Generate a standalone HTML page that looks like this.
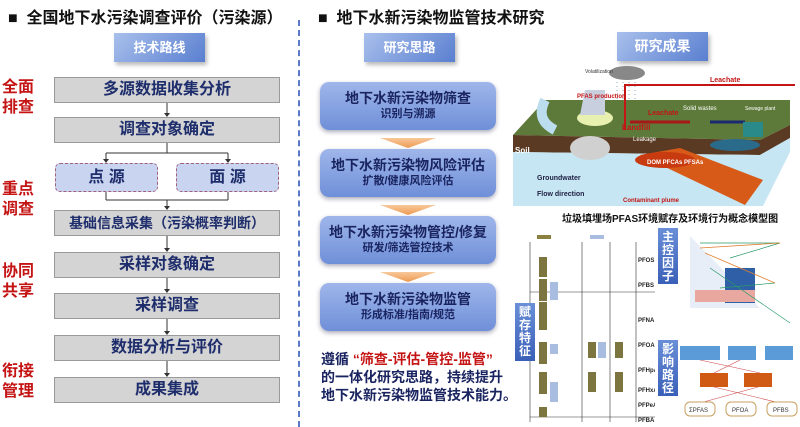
<!DOCTYPE html>
<html><head><meta charset="utf-8"><style>
*{margin:0;padding:0;box-sizing:border-box}
body{width:800px;height:427px;background:#fff;position:relative;overflow:hidden;font-family:"Liberation Sans","Noto Sans CJK SC",sans-serif}
.a{position:absolute}
.t{font-size:16px;font-weight:bold;color:#111;white-space:nowrap}
.hb{background:linear-gradient(135deg,#a9c0ec,#5a7fd0);color:#fff;font-weight:bold;font-size:13px;text-align:center;box-shadow:2px 3px 4px #bbb}
.g{background:#d4d4d4;border:1px solid #9a9a9a;color:#1e2d6b;font-weight:bold;font-size:16px;text-align:center;left:54px;width:226px;height:26px;line-height:24px}
.r{color:#c41414;font-weight:bold;font-size:16px;line-height:20px;left:2px}
.p{background:#c9d4f0;border:1.5px dashed #a0607a;border-radius:5px;color:#1e2d6b;font-weight:bold;font-size:16px;text-align:center;top:163px;height:29px;line-height:27px;width:103px}
.b{left:320px;width:176px;height:48px;border-radius:9px;background:linear-gradient(180deg,#9fb6ea,#6f8fd8);box-shadow:0 2px 5px #aab;text-align:center;color:#1a2460;font-weight:bold;font-size:14px;padding-top:7px;line-height:18px}
.b span{font-size:11px;display:block;line-height:15px}
.w{left:380px;width:56px;height:10px;background:linear-gradient(180deg,#f7c89a,#ef9a50);clip-path:polygon(0 0,100% 0,50% 100%)}
.vl{background:linear-gradient(180deg,#6a8fd8,#3a5fb8);color:#fff;font-weight:bold;font-size:12px;width:20px;text-align:center;line-height:13px;padding-top:3px}
</style></head><body>
<div class="a t" style="left:8px;top:4px">■&nbsp; 全国地下水污染调查评价（污染源）</div>
<div class="a t" style="left:318px;top:4px">■&nbsp; 地下水新污染物监管技术研究</div>
<div class="a" style="left:298px;top:20px;height:407px;border-left:2px dashed #5a7ac8"></div>

<div class="a hb" style="left:114px;top:33px;width:91px;height:29px;line-height:29px">技术路线</div>
<div class="a r" style="top:78px">全面<br>排查</div>
<div class="a r" style="top:180px">重点<br>调查</div>
<div class="a r" style="top:262px">协同<br>共享</div>
<div class="a r" style="top:362px">衔接<br>管理</div>
<div class="a g" style="top:77px">多源数据收集分析</div>
<div class="a g" style="top:117px">调查对象确定</div>
<div class="a p" style="left:55px">点 源</div>
<div class="a p" style="left:176px">面 源</div>
<div class="a g" style="top:210px;font-size:14px">基础信息采集（污染概率判断）</div>
<div class="a g" style="top:252px">采样对象确定</div>
<div class="a g" style="top:293px">采样调查</div>
<div class="a g" style="top:335px">数据分析与评价</div>
<div class="a g" style="top:377px">成果集成</div>
<svg class="a" style="left:0;top:0" width="300" height="427">
<g stroke="#333" fill="none" stroke-width="1"><path d="M167 103V115M167 143V153M106 153H228M106 153V161M228 153V161M106 192V200M228 192V200M106 200H228M167 200V208M167 236V250M167 278V291M167 319V333M167 361V375"/></g>
<g fill="#333"><path d="M164 113h6l-3 4zM103 159h6l-3 4zM225 159h6l-3 4zM164 206h6l-3 4zM164 248h6l-3 4zM164 289h6l-3 4zM164 331h6l-3 4zM164 373h6l-3 4z"/></g>
</svg>

<div class="a hb" style="left:364px;top:33px;width:91px;height:29px;line-height:29px">研究思路</div>
<div class="a b" style="top:82px">地下水新污染物筛查<span>识别与溯源</span></div>
<div class="a w" style="top:138px"></div>
<div class="a b" style="top:149px">地下水新污染物风险评估<span>扩散/健康风险评估</span></div>
<div class="a w" style="top:205px"></div>
<div class="a b" style="top:216px">地下水新污染物管控/修复<span>研发/筛选管控技术</span></div>
<div class="a w" style="top:272px"></div>
<div class="a b" style="top:283px">地下水新污染物监管<span>形成标准/指南/规范</span></div>
<div class="a" style="left:321px;top:350px;font-size:14px;font-weight:bold;color:#1a2460;line-height:18px;white-space:nowrap">遵循 <span style="color:#c41414">“筛查-评估-管控-监管”</span><br>的一体化研究思路，持续提升<br>地下水新污染物监管技术能力。</div>

<div class="a hb" style="left:617px;top:32px;width:91px;height:29px;line-height:29px;font-size:14px">研究成果</div>
<svg class="a" style="left:505px;top:60px" width="290" height="150">
<ellipse cx="122" cy="13" rx="18" ry="7" fill="#888"/>
<g stroke="#8ab" stroke-width="1" stroke-dasharray="1,3"><path d="M112 22V55M118 22V55M124 22V55M130 22V55"/></g>
<polygon points="8,75 40,40 285,40 285,65 255,80" fill="#5d7a3a"/>
<polygon points="8,75 255,80 285,65 285,78 255,95 8,92" fill="#5a3a22"/>
<polygon points="8,92 255,95 285,78 285,92 258,146 8,146" fill="#c5e6f2"/>
<path d="M135 95L175 88L258 120L240 145Z" fill="#d85a18"/>
<ellipse cx="160" cy="100" rx="30" ry="8" fill="#c83a10"/>
<ellipse cx="85" cy="88" rx="20" ry="12" fill="#d0d0d0"/>
<ellipse cx="90" cy="58" rx="18" ry="8" fill="#e8f0b0"/>
<path d="M75 55L100 55L100 30L80 30Z" fill="#c8d0e0"/>
<path d="M50 70Q30 60 40 40" stroke="#bde" stroke-width="10" fill="none"/>
<path d="M120 70V25H295V40" stroke="#c41414" stroke-width="2" fill="none"/>
<path d="M185 62H125" stroke="#a81818" stroke-width="3"/>
<path d="M240 62H205" stroke="#1a2a70" stroke-width="3"/>
<ellipse cx="230" cy="85" rx="25" ry="6" fill="#2a6a8a"/>
<rect x="238" y="62" width="20" height="15" fill="#2a8a8a"/>
<text x="80" y="13" font-size="5" fill="#333">Volatilization</text>
<text x="205" y="22" font-size="7" fill="#c41414" font-weight="bold">Leachate</text>
<text x="72" y="38" font-size="6" fill="#c41414" font-weight="bold">PFAS production</text>
<text x="10" y="93" font-size="8" fill="#fff" font-weight="bold">Soil</text>
<text x="32" y="120" font-size="7" fill="#224" font-weight="bold">Groundwater</text>
<text x="32" y="136" font-size="7" fill="#224" font-weight="bold">Flow direction</text>
<text x="117" y="70" font-size="8" fill="#c41414" font-weight="bold">Landfill</text>
<text x="128" y="81" font-size="6" fill="#fff">Leakage</text>
<text x="143" y="55" font-size="7" fill="#c41414" font-weight="bold">Leachate</text>
<text x="178" y="50" font-size="6" fill="#fff">Solid wastes</text>
<text x="240" y="50" font-size="5" fill="#fff">Sewage plant</text>
<text x="142" y="104" font-size="6" fill="#fff" font-weight="bold">DOM PFCAs PFSAs</text>
<text x="118" y="142" font-size="6" fill="#c41414" font-weight="bold">Contaminant plume</text>
</svg>
<div class="a" style="left:562px;top:210px;font-size:10px;font-weight:bold;color:#111;white-space:nowrap">垃圾填埋场PFAS环境赋存及环境行为概念模型图</div>

<svg class="a" style="left:525px;top:232px" width="130" height="195">
<rect x="12" y="3" width="14" height="4" fill="#8a8040"/><rect x="65" y="3" width="14" height="4" fill="#a8bde0"/>
<g stroke="#333" stroke-width="0.6" fill="none"><path d="M5 10V190M57 10V190M85 10V190M111 10V190M5 60H130M5 185H130"/></g>
<g fill="#7d7540"><rect x="14" y="25" width="8" height="20"/><rect x="14" y="47" width="8" height="22"/><rect x="14" y="70" width="8" height="28"/><rect x="14" y="110" width="8" height="22"/><rect x="14" y="140" width="8" height="22"/><rect x="14" y="175" width="8" height="10"/><rect x="63" y="110" width="8" height="16"/><rect x="63" y="140" width="8" height="20"/><rect x="90" y="110" width="8" height="16"/><rect x="90" y="140" width="8" height="20"/></g>
<g fill="#a8bde0"><rect x="25" y="50" width="8" height="18"/><rect x="25" y="112" width="8" height="10"/><rect x="25" y="150" width="8" height="20"/><rect x="73" y="110" width="8" height="16"/></g>
<g font-size="6" font-weight="bold" fill="#222"><text x="113" y="30">PFOS</text><text x="113" y="55">PFBS</text><text x="113" y="90">PFNA</text><text x="113" y="115">PFOA</text><text x="113" y="140">PFHpA</text><text x="113" y="160">PFHxA</text><text x="113" y="175">PFPeA</text><text x="113" y="190">PFBA</text></g>
</svg>
<div class="a vl" style="left:515px;top:303px;height:58px">赋存特征</div>
<div class="a vl" style="left:658px;top:228px;height:56px">主控因子</div>
<div class="a vl" style="left:658px;top:340px;height:56px">影响路径</div>
<svg class="a" style="left:680px;top:228px" width="120" height="199">
<polygon points="10,8 10,80 80,80" fill="#e8eef8"/>
<rect x="45" y="40" width="30" height="35" fill="#2f5fa6"/>
<rect x="15" y="62" width="60" height="12" fill="#e8a8a0"/>
<g stroke="#2a9a6a" stroke-width="0.7" fill="none"><path d="M20 15L100 15M30 40L110 95M40 60L95 55M50 30L100 15"/></g>
<g stroke="#e08030" stroke-width="0.8" fill="none"><path d="M20 20L100 15M25 25L95 55"/></g>
<rect x="0" y="118" width="40" height="14" fill="#5a9bd8"/><rect x="48" y="118" width="28" height="14" fill="#5a9bd8"/><rect x="85" y="118" width="28" height="14" fill="#5a9bd8"/>
<rect x="20" y="145" width="28" height="14" fill="#d05a14"/><rect x="64" y="145" width="28" height="14" fill="#d05a14"/>
<g stroke="#c44" stroke-width="0.6"><path d="M20 132L80 145M60 132L34 145M34 159L100 175M78 159L20 175"/></g>
<rect x="5" y="174" width="30" height="14" rx="5" fill="#fff" stroke="#c8a060"/><rect x="46" y="174" width="30" height="14" rx="5" fill="#fff" stroke="#c8a060"/><rect x="87" y="174" width="30" height="14" rx="5" fill="#fff" stroke="#c8a060"/>
<g font-size="6" fill="#333"><text x="9" y="184">ΣPFAS</text><text x="52" y="184">PFOA</text><text x="93" y="184">PFBS</text></g>
</svg>
</body></html>
